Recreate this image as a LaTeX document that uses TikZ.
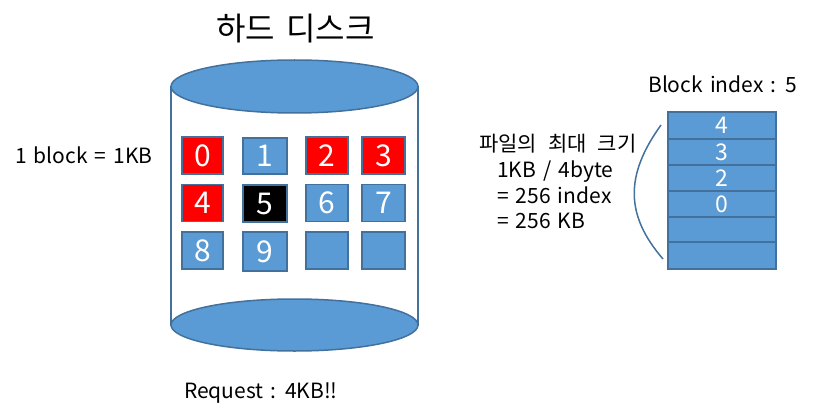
\documentclass[tikz,border=0pt]{standalone}
\usepackage{fontspec}
\setmainfont[WordSpace=1.5]{Noto Sans CJK KR}
\definecolor{fillblue}{HTML}{5B9BD5}
\definecolor{edgeblue}{HTML}{41719C}
\begin{document}
\begin{tikzpicture}[x=1pt,y=-1pt,
  blk/.style={draw=edgeblue,line width=1.5pt,fill=fillblue,minimum width=41pt,minimum height=37pt,inner sep=0pt,text=white,font=\fontsize{30}{30}\selectfont},
  redblk/.style={blk,fill=red},
  blackblk/.style={blk,fill=black},
  row/.style={draw=edgeblue,line width=1.5pt,fill=fillblue,minimum width=108pt,minimum height=26pt,inner sep=0pt,text=white,font=\fontsize{23}{23}\selectfont},
  lbl/.style={inner sep=0pt,anchor=base west,font=\fontsize{21}{25}\selectfont}]
\useasboundingbox (0,0) rectangle (816,417);
% cylinder
\draw[edgeblue,line width=1.5pt,fill=white] (171,86) -- (171,325) -- (418,325) -- (418,86);
\draw[edgeblue,line width=1.5pt,fill=fillblue] (294.5,325) ellipse [x radius=123.5, y radius=26];
\draw[edgeblue,line width=1.5pt,fill=fillblue] (294.5,86.5) ellipse [x radius=123.5, y radius=26.5];
% blocks
\node[redblk] (b0) at (202.5,155.5) {0};
\node[blk,minimum width=44pt,minimum height=36pt] (b1) at (265,156) {1};
\node[redblk,minimum width=42pt] (b2) at (327,155.5) {2};
\node[redblk,minimum width=43pt] (b3) at (383.5,155.5) {3};
\node[redblk] (b4) at (202.5,203) {4};
\node[blackblk,minimum width=44pt] (b5) at (265,203.5) {5};
\node[blk,minimum width=42pt] (b6) at (327,203) {6};
\node[blk,minimum width=43pt] (b7) at (383.5,203) {7};
\node[blk] (b8) at (202.5,250.5) {8};
\node[blk,minimum width=44pt,minimum height=39pt] (b9) at (265,251.5) {9};
\node[blk,minimum width=42pt] (b10) at (327,250.5) {};
\node[blk,minimum width=43pt] (b11) at (383.5,250.5) {};
% index block
\node[row,minimum height=27pt] (r1) at (722,125.5) {4};
\node[row] (r2) at (722,152) {3};
\node[row] (r3) at (722,178) {2};
\node[row] (r4) at (722,204) {0};
\node[row,minimum height=25pt] (r5) at (722,229.5) {};
\node[row,minimum height=27pt] (r6) at (722,255.5) {};
% brace curve
\draw[edgeblue,line width=1.5pt] (661,125) .. controls (625,175) and (625,215) .. (663,259);
% texts
\node[inner sep=0pt,anchor=base,font=\fontsize{32}{36}\selectfont] (title) at (295.5,41) {하드 디스크};
\node[lbl] (t1) at (15,163) {1 block = 1KB};
\node[lbl] (t2) at (648,93) {Block index : 5};
\node[lbl] (t3) at (479,151) {파일의\hspace{11pt}최대\hspace{11pt}크기};
\node[lbl] (t4) at (497,177) {1KB / 4byte};
\node[lbl] (t5) at (497,203) {= 256 index};
\node[lbl] (t6) at (497,228) {= 256 KB};
\node[lbl] (t7) at (184,398) {Request : 4KB!!};
\end{tikzpicture}
\end{document}
